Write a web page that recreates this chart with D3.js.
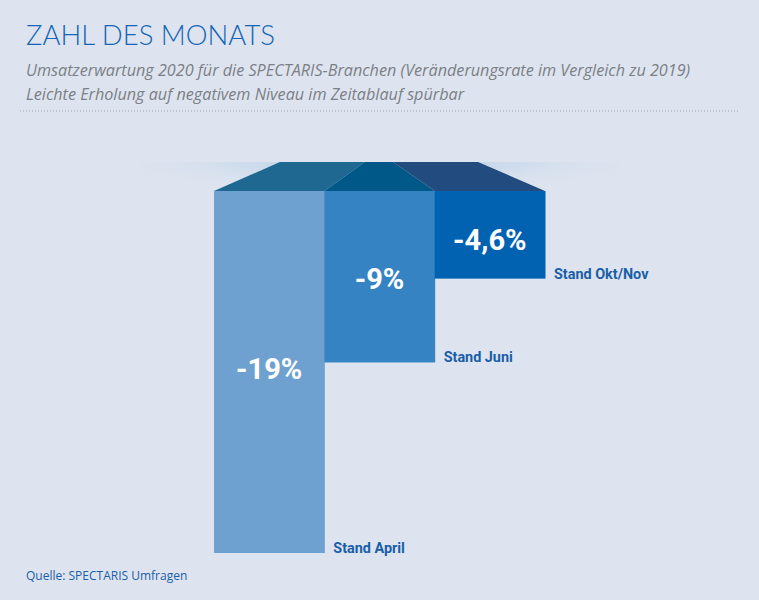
<!DOCTYPE html>
<html><head><meta charset="utf-8">
<script src="https://cdn.jsdelivr.net/npm/d3@7"></script>
<style>body{margin:0;background:#dde4ef}</style>
</head><body>
<svg id="chart" width="759" height="600"></svg>
<script>
// Werte aus der Grafik
const stages = ["Stand April", "Stand Juni", "Stand Okt/Nov"];
const values = [-19, -9, -4.6];
const valueLabels = ["-19%", "-9%", "-4,6%"];
const frontColors = ["#6fa1d0", "#3683c3", "#0062b0"];
const topColors = ["#1f6891", "#005888", "#224c7f"];

const svg = d3.select("#chart");
const W = 759, H = 600;
const defs = svg.append("defs");

svg.append("rect").attr("width", W).attr("height", H).attr("fill", "#dde4ef");

svg.append("text").attr("x", 26).attr("y", 45)
  .attr("font-family", "Lato, 'Open Sans', sans-serif").attr("font-weight", 300)
  .attr("font-size", 27.5).attr("fill", "#1565b5").text("ZAHL DES MONATS");

const sub = ["Umsatzerwartung 2020 für die SPECTARIS-Branchen (Veränderungsrate im Vergleich zu 2019)",
             "Leichte Erholung auf negativem Niveau im Zeitablauf spürbar"];
svg.selectAll(".sub").data(sub).join("text").attr("class", "sub")
  .attr("x", 26).attr("y", (d, i) => 76 + i * 24)
  .attr("font-family", "'Open Sans', sans-serif").attr("font-style", "italic")
  .attr("font-size", 16.2).attr("fill", "#7c7f86").text(d => d);

svg.append("line").attr("x1", 20).attr("x2", 740).attr("y1", 111).attr("y2", 111)
  .attr("stroke", "#a0a5ad").attr("stroke-dasharray", "1,2");

// Scales
const x = d3.scaleBand().domain(stages).range([214, 545]).padding(0);
const y = d3.scaleLinear().domain([0, -19]).range([191, 553]);

// Glow
const glow = defs.append("radialGradient").attr("id", "glow")
  .attr("cx", "50%").attr("cy", "0%").attr("r", "60%");
glow.append("stop").attr("offset", "0%").attr("stop-color", "#a9c6e6");
glow.append("stop").attr("offset", "100%").attr("stop-color", "#dde4ef").attr("stop-opacity", 0);
svg.append("rect").attr("x", 140).attr("y", 162).attr("width", 480).attr("height", 50)
  .attr("fill", "url(#glow)");

// Front faces
svg.selectAll(".bar").data(stages).join("rect").attr("class", "bar")
  .attr("x", d => x(d)).attr("width", x.bandwidth() + 0.5)
  .attr("y", y(0)).attr("height", (d, i) => y(values[i]) - y(0))
  .attr("fill", (d, i) => frontColors[i]);

// Top face (perspective trapezoid)
const topY = 162, topL = 280, topR = 478;
const topSplit = [topL, 365, 393, topR];
svg.selectAll(".top").data(stages).join("path").attr("class", "top")
  .attr("d", (d, i) => {
    const b0 = x(d), b1 = x(d) + x.bandwidth();
    return `M${b0},${y(0)}L${b1},${y(0)}L${topSplit[i + 1]},${topY}L${topSplit[i]},${topY}Z`;
  })
  .attr("fill", (d, i) => topColors[i]);

// Value labels
const labelY = [379, 289, 250];
svg.selectAll(".val").data(stages).join("text").attr("class", "val")
  .attr("x", d => x(d) + x.bandwidth() / 2).attr("y", (d, i) => labelY[i])
  .attr("text-anchor", "middle").attr("font-family", "Roboto, sans-serif")
  .attr("font-weight", "bold").attr("font-size", 30).attr("fill", "#fff")
  .attr("transform", (d, i) => `translate(${x(d) + x.bandwidth() / 2},${labelY[i]}) scale(0.97,1) translate(${-(x(d) + x.bandwidth() / 2)},${-labelY[i]})`)
  .text((d, i) => valueLabels[i]);

// Stage labels
svg.selectAll(".stage").data(stages).join("text").attr("class", "stage")
  .attr("x", d => x(d) + x.bandwidth() + 9).attr("y", (d, i) => y(values[i]))
  .attr("font-family", "Roboto, sans-serif").attr("font-weight", "bold")
  .attr("font-size", 15).attr("fill", "#1a5ea8")
  .attr("transform", (d, i) => `translate(${x(d) + x.bandwidth() + 9},${y(values[i])}) scale(0.96,1) translate(${-(x(d) + x.bandwidth() + 9)},${-y(values[i])})`)
  .text(d => d);

svg.append("text").attr("x", 26).attr("y", 580)
  .attr("font-family", "'Open Sans', sans-serif").attr("font-size", 12)
  .attr("fill", "#1a5ea8").text("Quelle: SPECTARIS Umfragen");
</script>
</body></html>
